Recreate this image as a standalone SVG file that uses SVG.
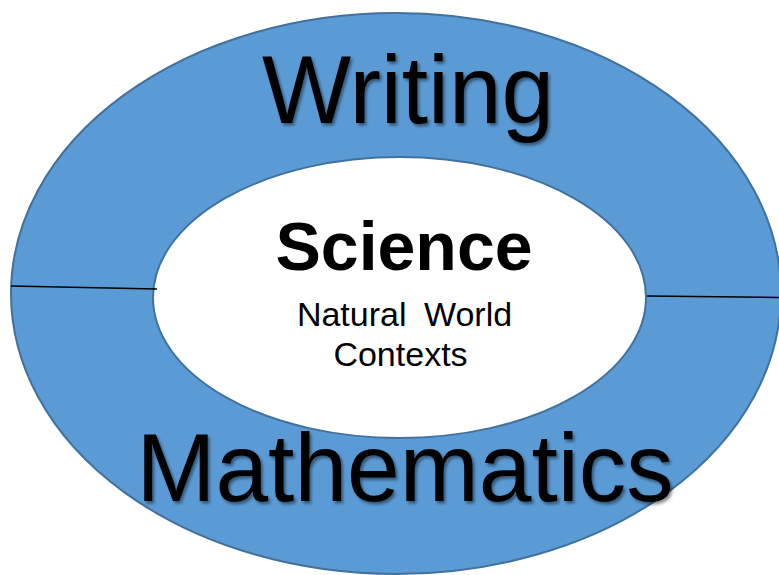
<svg xmlns="http://www.w3.org/2000/svg" width="779" height="575" viewBox="0 0 779 575">
<defs>
<style>
.ring{fill:#5B9BD5;stroke:#41719C;stroke-width:2}
.core{fill:#FFFFFF;stroke:#41719C;stroke-width:2}
.big{font-family:"Liberation Sans",Arial,sans-serif;font-size:96px;fill:#000;text-anchor:middle}
.title{font-family:"Liberation Sans",Arial,sans-serif;font-size:68px;font-weight:bold;fill:#000;text-anchor:middle}
.sub{font-family:"Liberation Sans",Arial,sans-serif;font-size:34px;fill:#000;text-anchor:middle}
.div{stroke:#000;stroke-width:1.5;fill:none}
</style>
<filter id="shadow" x="-10%" y="-10%" width="120%" height="130%">
<feDropShadow dx="2" dy="2.5" stdDeviation="1.5" flood-color="#000" flood-opacity="0.45"/>
</filter>
</defs>
<g id="outer">
<ellipse class="ring" cx="396" cy="293.5" rx="385" ry="280.5"/>
</g>
<g id="inner">
<ellipse class="core" cx="399.5" cy="297.5" rx="246.5" ry="140.5"/>
</g>
<g id="connectors">
<line class="div" x1="11" y1="286" x2="157" y2="289"/>
<line class="div" x1="647" y1="296" x2="779" y2="297.5"/>
</g>
<g id="writing">
<text class="big" x="408" y="123" font-size="98" textLength="292" lengthAdjust="spacingAndGlyphs" filter="url(#shadow)">Writing</text>
</g>
<g id="mathematics">
<text class="big" x="405" y="501" textLength="537" lengthAdjust="spacingAndGlyphs" filter="url(#shadow)">Mathematics</text>
</g>
<g id="science">
<text class="title" x="404" y="269.5">Science</text>
<text class="sub" x="404.5" y="326" word-spacing="8">Natural World</text>
<text class="sub" x="400.5" y="366">Contexts</text>
</g>
</svg>
